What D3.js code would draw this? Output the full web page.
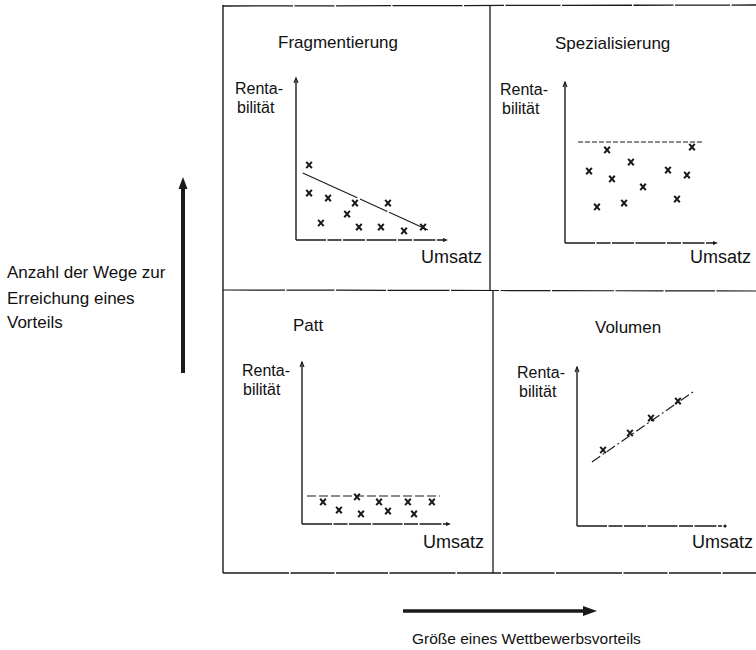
<!DOCTYPE html>
<html><head><meta charset="utf-8">
<script src="https://cdn.jsdelivr.net/npm/d3@7"></script>
<style>
html,body{margin:0;padding:0;background:#fff;}
text{font-family:"Liberation Sans",Arial,Helvetica,sans-serif;fill:#111;}
</style></head>
<body>
<svg id="chart" width="756" height="650"></svg>
<script>
// ---- Data (values in arbitrary 0..10 units of each small diagram) ----
const panelTitles = ["Fragmentierung", "Spezialisierung", "Patt", "Volumen"];
const yAxisLabel = ["Renta-", "bilität"];
const xAxisLabel = "Umsatz";
const sideLabel = ["Anzahl der Wege zur", "Erreichung eines", "Vorteils"];
const bottomLabel = "Größe eines Wettbewerbsvorteils";

const fragPoints = [[0.86,4.63],[0.86,2.90],[2.11,2.59],[3.88,2.28],[6.05,2.28],[3.36,1.60],[1.64,1.05],[4.14,0.80],[5.59,0.80],[7.11,0.56],[8.36,0.80]];
const fragLine = [[0.44,4.14],[8.68,0.62]];
const spezPoints = [[2.75,5.78],[8.30,5.96],[4.31,5.03],[1.57,4.47],[6.73,4.53],[7.97,4.22],[3.07,3.98],[5.10,3.48],[7.32,2.73],[2.09,2.24],[3.86,2.48]];
const spezLine = [[0.85,6.27],[9.02,6.27]];
const pattPoints = [[1.41,1.36],[2.48,0.86],[3.69,1.67],[3.96,0.62],[5.17,1.36],[5.77,0.80],[7.11,1.36],[7.52,0.62],[8.72,1.36]];
const pattLine = [[0.34,1.73],[9.26,1.73]];
const volPoints = [[1.76,4.78],[3.58,5.85],[5.00,6.79],[6.82,7.86]];
const volLine = [[1.01,4.03],[7.84,8.43]];

// ---- Layout ----
const svg = d3.select("#chart");
const ink = "#1a1a1a";

// outer frame and dividers
const frame = svg.append("g").attr("stroke", ink).attr("fill", "none");
frame.append("line").attr("x1",223).attr("y1",6).attr("x2",756).attr("y2",5).attr("stroke-width",1.3).attr("stroke-dasharray","70,1.5,40,1.5,55,1.5");
frame.append("line").attr("x1",223).attr("y1",5).attr("x2",223).attr("y2",573).attr("stroke-width",1.4);
frame.append("line").attr("x1",223).attr("y1",573).attr("x2",756).attr("y2",573).attr("stroke-width",1.3).attr("stroke-dasharray","66,1.5,44,1.5,52,1.5");
frame.append("line").attr("x1",223).attr("y1",290).attr("x2",756).attr("y2",291).attr("stroke-width",1.2).attr("stroke-dasharray","62,1.5,48,1.5,50,1.5");
frame.append("line").attr("x1",490).attr("y1",5).attr("x2",490).attr("y2",291).attr("stroke-width",1.3);
frame.append("line").attr("x1",493).attr("y1",291).attr("x2",493).attr("y2",573).attr("stroke-width",1.3);

const panels = [
  {title: panelTitles[0], tx:278, ty:42, ox:296, oy:240, xe:448, yt:78,  lab:[235,88,237,107], um:[421,257], pts:fragPoints, line:fragLine, dash:"60,3,30,2", endDot:false},
  {title: panelTitles[1], tx:555, ty:43, ox:565, oy:243, xe:718, yt:82,  lab:[500,89,502,108], um:[690,257], pts:spezPoints, line:spezLine, dash:"5,2", endDot:false},
  {title: panelTitles[2], tx:293, ty:325, ox:302, oy:524, xe:451, yt:362, lab:[242,370,243,389], um:[423,542], pts:pattPoints, line:pattLine, dash:"9,3", endDot:false},
  {title: panelTitles[3], tx:595, ty:327, ox:577, oy:526, xe:725, yt:367, lab:[517,372,519,391], um:[692,542], pts:volPoints, line:volLine, dash:"10,3,2,3", endDot:true}
];

const fs = 17;
panels.forEach(p => {
  const g = svg.append("g");
  const x = d3.scaleLinear().domain([0,10]).range([p.ox, p.xe]);
  const y = d3.scaleLinear().domain([0,10]).range([p.oy, p.yt]);

  g.append("text").attr("x",p.tx).attr("y",p.ty).attr("dominant-baseline","central")
    .attr("font-size",fs).text(p.title);
  g.append("text").attr("x",p.lab[0]).attr("y",p.lab[1]).attr("dominant-baseline","central").attr("font-size",16).text(yAxisLabel[0]);
  g.append("text").attr("x",p.lab[2]).attr("y",p.lab[3]).attr("dominant-baseline","central").attr("font-size",16).text(yAxisLabel[1]);
  g.append("text").attr("x",p.um[0]).attr("y",p.um[1]).attr("dominant-baseline","central").attr("font-size",fs+1).text(xAxisLabel);

  // axes
  g.append("line").attr("x1",x(0)).attr("y1",y(0)).attr("x2",x(0)).attr("y2",y(10))
    .attr("stroke",ink).attr("stroke-width",1.4);
  g.append("path").attr("d",`M${x(0)-2},${y(10)+5}L${x(0)},${y(10)}L${x(0)+2},${y(10)+5}`)
    .attr("stroke",ink).attr("fill","none").attr("stroke-width",1.1);
  g.append("line").attr("x1",x(0)).attr("y1",y(0)).attr("x2",x(10)-3).attr("y2",y(0))
    .attr("stroke",ink).attr("stroke-width",1.3).attr("stroke-dasharray","30,1.5,14,1.5,22,1.5");
  if (p.endDot) {
    g.append("circle").attr("cx",x(10)).attr("cy",y(0)).attr("r",1.6).attr("fill",ink);
  } else {
    g.append("path").attr("d",`M${x(10)-5},${y(0)-2}L${x(10)},${y(0)}L${x(10)-5},${y(0)+2}Z`).attr("fill",ink);
  }

  // reference line
  g.append("line").attr("x1",x(p.line[0][0])).attr("y1",y(p.line[0][1]))
    .attr("x2",x(p.line[1][0])).attr("y2",y(p.line[1][1]))
    .attr("stroke",ink).attr("stroke-width",1.1).attr("stroke-dasharray",p.dash);

  // crosses
  g.selectAll("path.pt").data(p.pts).join("path").attr("class","pt")
    .attr("transform", d => `translate(${x(d[0])},${y(d[1])})`)
    .attr("d","M-2.8,-3.2L2.8,3.2M2.8,-3.2L-2.8,3.2")
    .attr("stroke",ink).attr("stroke-width",2).attr("fill","none");
});

// side label + vertical arrow
svg.append("g").selectAll("text").data(sideLabel).join("text")
  .attr("x",7).attr("y",(d,i)=>[272,298,322][i]).attr("dominant-baseline","central")
  .attr("font-size",fs).text(d=>d);
svg.append("line").attr("x1",183).attr("y1",373).attr("x2",183).attr("y2",186)
  .attr("stroke",ink).attr("stroke-width",4);
svg.append("path").attr("d","M178.5,189L183,177L187.5,189Z").attr("fill",ink);

// bottom arrow + label
svg.append("line").attr("x1",403).attr("y1",611).attr("x2",586).attr("y2",611)
  .attr("stroke",ink).attr("stroke-width",3.6);
svg.append("path").attr("d","M583,606L597,611L583,616Z").attr("fill",ink);
svg.append("text").attr("x",412).attr("y",638).attr("dominant-baseline","central")
  .attr("font-size",15.5).text(bottomLabel);
</script>
</body></html>
